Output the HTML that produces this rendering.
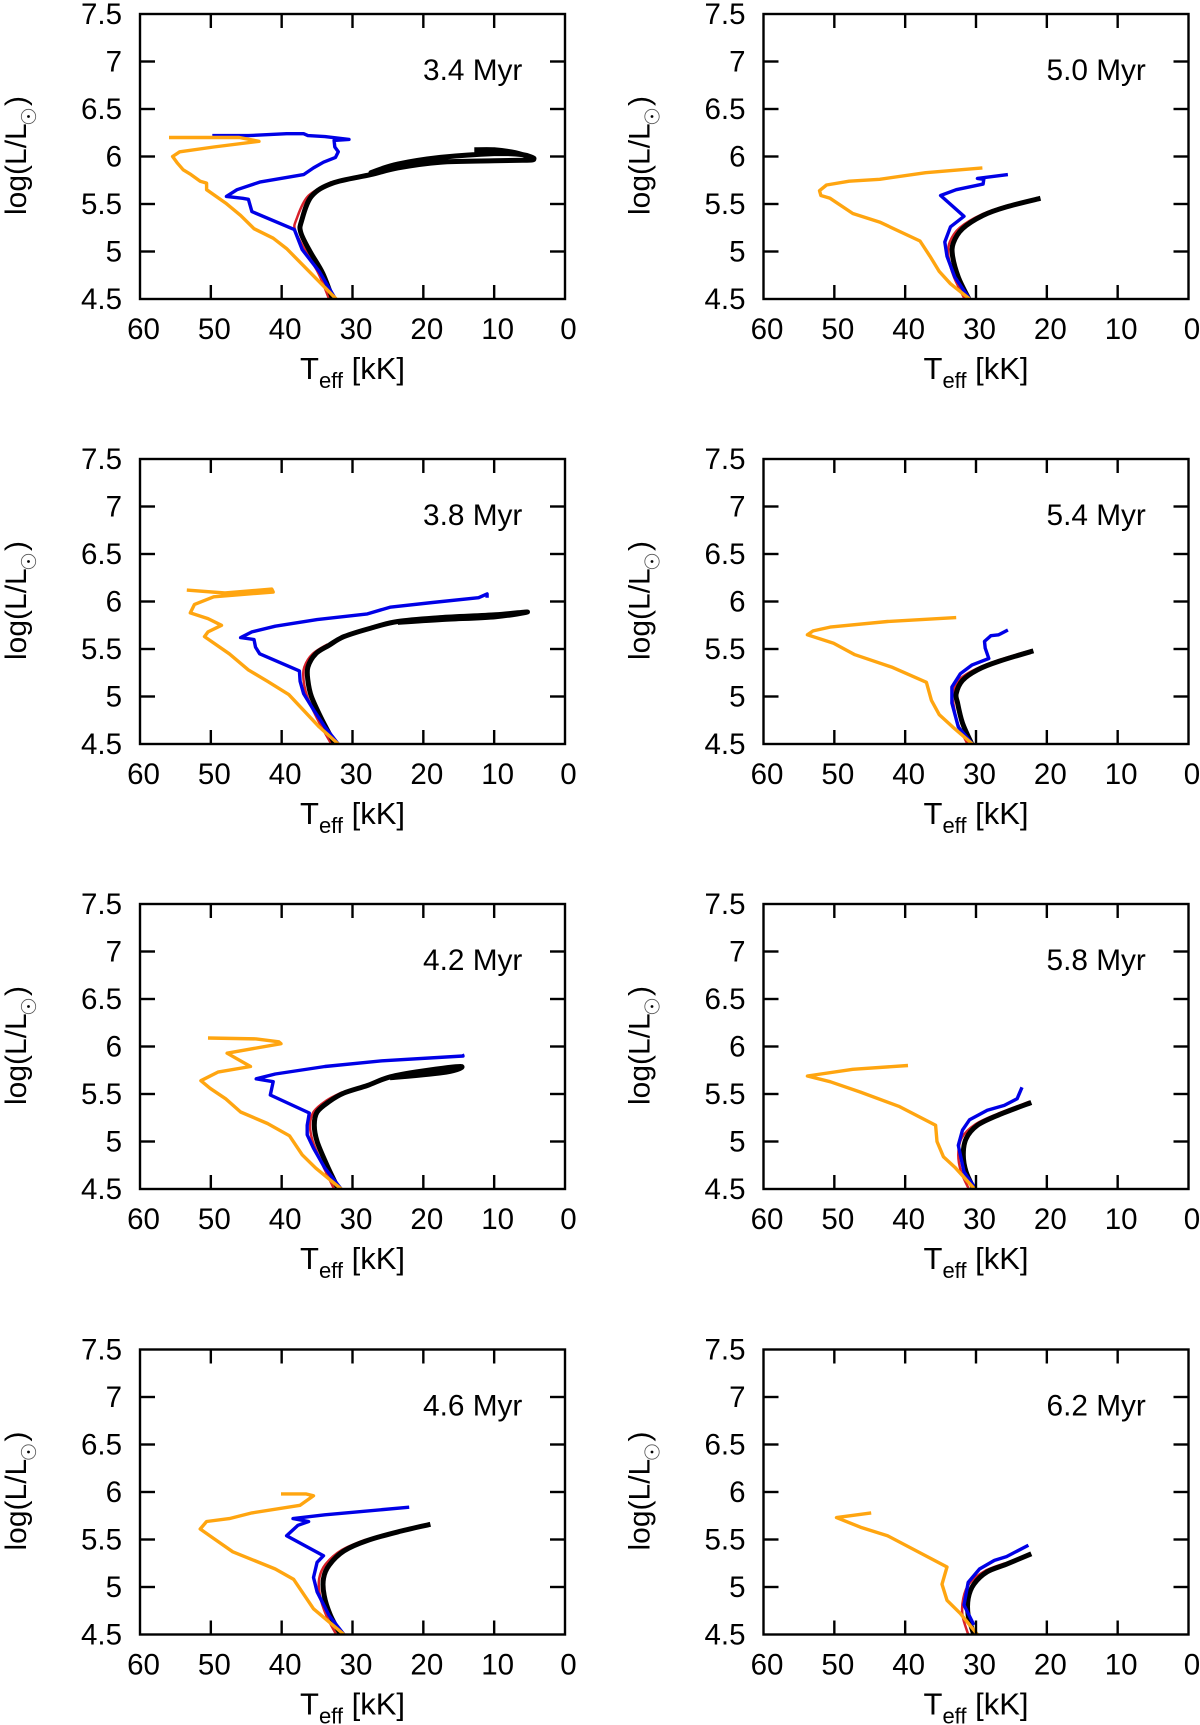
<!DOCTYPE html>
<html>
<head>
<meta charset="utf-8">
<title>HR diagrams by age</title>
<style>
html,body{margin:0;padding:0;background:#fff;}
svg{display:block;}
text{font-family:"Liberation Sans",Arial,sans-serif;fill:#000;}
</style>
</head>
<body>
<svg id="figure" xmlns="http://www.w3.org/2000/svg" width="1200" height="1725" viewBox="0 0 1200 1725">
<rect width="1200" height="1725" fill="#fff"/>
</svg>
<script>
const ages = ["3.4 Myr","5.0 Myr","3.8 Myr","5.4 Myr","4.2 Myr","5.8 Myr","4.6 Myr","6.2 Myr"];
const xTickLabels = [60,50,40,30,20,10,0];
const yTickLabels = ["4.5","5","5.5","6","6.5","7","7.5"];
const yTickValues = [4.5,5,5.5,6,6.5,7,7.5];

const blackTeff = [
 [32.8,34.2,36,37.3,37.2,35.8,32.8,27.4,23.6,17.6,10,6,4.4,6,10,17.6,23.6,27.4,23.6,17.6,10,6,4.4,7,10,12.8],
 [31,32.5,33.3,33.2,31.9,29,25.7,20.9],
 [32.5,34.4,35.8,36.3,36.3,35.2,33.3,31.2,27.4,23.6,17.6,9.8,5.3,9.8,17.6,23.6],
 [30.6,31.9,32.6,32.8,31.9,29.8,26.8,21.9],
 [32,33.6,35,35.4,35,33.3,31.2,27.9,24.7,20.3,14.7,16.8,24.7],
 [30.3,31.4,31.8,31.4,29.8,26.8,22.2],
 [31.7,33.1,34,34.1,33.3,31.2,27.9,23.6,19],
 [30.3,31.1,31.1,30.3,28.4,25.7,22.2]
];
const blackLum = [
 [4.5,4.77,5,5.2,5.32,5.58,5.72,5.81,5.88,5.94,5.955,5.96,5.97,6.02,6.03,5.99,5.92,5.83,5.92,5.99,6.03,6.02,5.98,6.04,6.07,6.07],
 [4.5,4.73,4.95,5.09,5.24,5.38,5.47,5.56],
 [4.5,4.77,5,5.17,5.31,5.45,5.54,5.63,5.72,5.79,5.83,5.86,5.89,5.84,5.81,5.78],
 [4.5,4.72,4.93,5.03,5.17,5.28,5.37,5.48],
 [4.5,4.75,5,5.17,5.31,5.42,5.51,5.59,5.68,5.74,5.79,5.73,5.67],
 [4.5,4.68,4.86,5.03,5.17,5.28,5.41],
 [4.5,4.7,4.91,5.09,5.23,5.38,5.49,5.58,5.66],
 [4.5,4.7,4.88,5.03,5.16,5.24,5.35]
];

const redTeff = [
 [33.3,34.8,36.6,38.1,37.9,36.3,33],
 [31.6,33.1,33.9,33.7,32.3,29.2,25.8],
 [33,35,36.4,36.9,36.8,35.6,33.5],
 [31.2,32.6,33.2,33.3,32.3,30,26.9,22],
 [32.6,34.2,35.6,36,35.5,33.7,31.4],
 [31,32.1,32.5,32,30.1,27,22.4],
 [32.3,33.7,34.6,34.7,33.8,31.5,28.1],
 [31.1,31.9,31.8,30.9,28.7,25.9]
];
const redLum = [
 [4.5,4.77,5,5.22,5.34,5.58,5.73],
 [4.5,4.73,4.95,5.1,5.25,5.39,5.48],
 [4.5,4.77,5,5.17,5.31,5.45,5.55],
 [4.5,4.72,4.93,5.03,5.18,5.29,5.38,5.49],
 [4.5,4.75,5,5.17,5.31,5.43,5.52],
 [4.5,4.68,4.86,5.04,5.18,5.29,5.42],
 [4.5,4.7,4.91,5.09,5.24,5.39,5.5],
 [4.5,4.7,4.88,5.04,5.17,5.25]
];

const blueTeff = [
 [32.4,34.7,37.1,38.2,44.2,44.7,45.5,47.8,46.3,43.1,36.9,35.5,34.1,32.4,32,32.5,32.6,30.5,33.9,36.3,36.9,39.3,44.7,49.8],
 [30.9,33,34.1,34.4,33.6,31.7,35,32.8,29,28.9,29.8,25.5],
 [32,33.9,35.5,36.9,37.4,37.5,43.1,43.7,43.9,45.8,44.2,40.9,35,27.9,24.7,18.7,12.2,11,11],
 [30.5,32.5,33.4,33.4,32.2,30.6,28.2,28.7,28.8,27.9,26.8,25.5],
 [31.6,33.9,35.5,36.4,36.4,36.1,41.6,41.2,43.6,40.9,33.9,25.8,14.4,14.5],
 [30.2,31.7,32.5,31.9,30.9,28.4,26,24.2,23.5],
 [31.2,33.3,35,35.5,35,34.1,39.3,37.7,36.2,38.4,33.9,22],
 [30.3,31.7,31.1,29.5,27.4,25.7,22.6]
];
const blueLum = [
 [4.5,4.79,5.02,5.23,5.42,5.55,5.56,5.58,5.65,5.73,5.81,5.88,5.94,5.99,6.05,6.1,6.17,6.18,6.21,6.22,6.24,6.24,6.22,6.22],
 [4.5,4.73,4.95,5.1,5.26,5.37,5.59,5.65,5.71,5.76,5.77,5.81],
 [4.5,4.68,4.86,5.03,5.16,5.27,5.45,5.52,5.6,5.62,5.68,5.74,5.81,5.87,5.94,5.99,6.04,6.08,6.04],
 [4.5,4.68,4.93,5.1,5.24,5.33,5.4,5.51,5.58,5.64,5.65,5.7],
 [4.5,4.72,4.93,5.07,5.17,5.3,5.49,5.63,5.66,5.71,5.79,5.85,5.9,5.92],
 [4.52,4.68,4.96,5.12,5.23,5.33,5.38,5.45,5.57],
 [4.5,4.7,4.95,5.1,5.26,5.33,5.54,5.65,5.69,5.72,5.76,5.84],
 [4.6,4.81,5.05,5.19,5.28,5.32,5.44]
];

const orangeTeff = [
 [32.3,34.4,39.3,41.2,43.9,45.8,47.9,50.6,50.6,51.5,52.8,53.9,54.7,55.4,54.4,49.6,43.2,46,55.9],
 [30.9,33.6,35.2,36.5,37.9,43.6,47.4,50.6,51.9,52.1,51.1,47.9,43.6,37.1,29.1],
 [32,34.7,39,42,44.7,47.4,50.1,50.9,50.4,48.5,50.4,52.9,52.3,49.6,41.2,41.4,48,53.4],
 [30.5,33.3,35.2,36.3,37,41.9,47.1,50.1,53.8,53,50.6,42.5,32.8],
 [31.6,35.2,37.1,38.9,42,45.8,47.9,50.1,51.4,49,44.4,47.7,40.1,40.4,43.6,50.4],
 [30.2,33,34.6,35.5,35.7,40.9,46.3,50.6,53.8,47.4,39.6],
 [31.2,35.5,38.3,40.9,46.9,49.6,51.5,50.6,47.4,44.2,37.4,35.5,36.6,40.1],
 [29.8,32.2,34.1,34.8,34.1,42.5,46.3,49.7,44.8]
];
const orangeLum = [
 [4.5,4.66,5.03,5.14,5.24,5.38,5.51,5.65,5.72,5.74,5.81,5.86,5.93,6,6.05,6.1,6.16,6.2,6.2],
 [4.5,4.66,4.79,4.95,5.11,5.31,5.4,5.56,5.59,5.64,5.7,5.74,5.76,5.83,5.88],
 [4.5,4.68,5.02,5.16,5.28,5.45,5.59,5.63,5.68,5.75,5.82,5.88,5.97,6.05,6.1,6.13,6.09,6.12],
 [4.5,4.68,4.81,4.96,5.15,5.31,5.44,5.56,5.65,5.69,5.73,5.79,5.83],
 [4.5,4.72,4.86,5.06,5.19,5.31,5.45,5.56,5.64,5.73,5.79,5.93,6.03,6.05,6.08,6.09],
 [4.5,4.73,4.84,5,5.17,5.37,5.52,5.63,5.69,5.76,5.8],
 [4.5,4.77,5.08,5.19,5.37,5.51,5.61,5.69,5.72,5.78,5.86,5.96,5.98,5.98],
 [4.5,4.72,4.86,5.03,5.21,5.54,5.63,5.73,5.78]
];

const plotW = 425, plotH = 285;
const colLeft = [140, 763.5];
const rowTop = [14, 459, 904, 1349.5];
const NS = "http://www.w3.org/2000/svg";
const fig = document.getElementById("figure");

function make(parent, tag, attrs, txt) {
  const e = document.createElementNS(NS, tag);
  for (const k in attrs) e.setAttribute(k, attrs[k]);
  if (txt !== undefined) e.textContent = txt;
  parent.appendChild(e);
  return e;
}
function xScale(left, t) { return left + plotW * (60 - t) / 60; }
function yScale(top, l) { return top + plotH * (7.5 - l) / 3; }

function pathFor(pts, smooth) {
  let d = "M" + pts[0][0].toFixed(1) + " " + pts[0][1].toFixed(1);
  for (let i = 0; i < pts.length - 1; i++) {
    const p1 = pts[i], p2 = pts[i + 1];
    if (!smooth) { d += "L" + p2[0].toFixed(1) + " " + p2[1].toFixed(1); continue; }
    const p0 = pts[i - 1] || p1, p3 = pts[i + 2] || p2;
    const c1x = p1[0] + (p2[0] - p0[0]) / 6, c1y = p1[1] + (p2[1] - p0[1]) / 6;
    const c2x = p2[0] - (p3[0] - p1[0]) / 6, c2y = p2[1] - (p3[1] - p1[1]) / 6;
    d += "C" + c1x.toFixed(1) + " " + c1y.toFixed(1) + " " + c2x.toFixed(1) + " " + c2y.toFixed(1) + " " + p2[0].toFixed(1) + " " + p2[1].toFixed(1);
  }
  return d;
}

function drawSeries(g, left, top, ts, ls, color, width, name, smooth) {
  const pts = ts.map((t, i) => [xScale(left, t), yScale(top, ls[i])]);
  const line = make(g, "path", {d: pathFor(pts, smooth), fill: "none", stroke: color, "stroke-width": width, "stroke-linejoin": "round"});
  
  
}

ages.forEach((age, p) => {
  const left = colLeft[p % 2], top = rowTop[Math.floor(p / 2)];
  const right = left + plotW, bottom = top + plotH;
  const g = make(fig, "g", {});
  
  

  const clipId = "clip" + p;
  const defs = make(g, "defs", {});
  const cp = make(defs, "clipPath", {id: clipId});
  make(cp, "rect", {x: left, y: top, width: plotW, height: plotH});

  const marks = make(g, "g", {"clip-path": "url(#" + clipId + ")"});
  
  
  drawSeries(marks, left, top, redTeff[p], redLum[p], "#d8202a", 2.5, "red-track", true);
  drawSeries(marks, left, top, blackTeff[p], blackLum[p], "#000", 5, "black-track", true);
  drawSeries(marks, left, top, blueTeff[p], blueLum[p], "#0000e6", 3.4, "blue-track", false);
  drawSeries(marks, left, top, orangeTeff[p], orangeLum[p], "#ffa510", 3.4, "orange-track", false);

  const axes = make(g, "g", {stroke: "#000", "stroke-width": 2.4, fill: "none"});
  
  
  xTickLabels.forEach((v) => {
    if (v === 60 || v === 0) return;
    const x = xScale(left, v);
    make(axes, "line", {x1: x, x2: x, y1: top, y2: top + 14});
    make(axes, "line", {x1: x, x2: x, y1: bottom, y2: bottom - 14});
  });
  yTickValues.forEach((v) => {
    if (v === 4.5 || v === 7.5) return;
    const y = yScale(top, v);
    make(axes, "line", {x1: left, x2: left + 15, y1: y, y2: y});
    make(axes, "line", {x1: right, x2: right - 15, y1: y, y2: y});
  });
  const frame = make(axes, "rect", {x: left, y: top, width: plotW, height: plotH});
  
  

  xTickLabels.forEach((v) => {
    const t = make(g, "text", {x: xScale(left, v) + 3.5, y: bottom + 40, "font-size": 29.5, "text-anchor": "middle"}, String(v));
    
    
  });
  yTickValues.forEach((v, i) => {
    const t = make(g, "text", {x: left - 18, y: yScale(top, v) + 9.8, "font-size": 29.5, "text-anchor": "end"}, yTickLabels[i]);
    
    
  });

  const age_t = make(g, "text", {x: left + 283, y: top + 66, "font-size": 29.8}, age);
  
  

  const xt = make(g, "text", {x: left + 160, y: bottom + 80, "font-size": 31});
  
  
  make(xt, "tspan", {}, "T");
  make(xt, "tspan", {dy: 9, "font-size": 22}, "eff");
  make(xt, "tspan", {dy: -9}, " [kK]");

  const yt = make(g, "g", {});
  
  
  const bx = left - 114, by = top + 201;
  make(yt, "text", {x: bx, y: by, "font-size": 30, transform: "rotate(-90 " + bx + " " + by + ")"}, "log(L/L");
  make(yt, "text", {x: bx, y: by - 109, "font-size": 30, transform: "rotate(-90 " + bx + " " + (by - 109) + ")"}, ")");
  const sun = make(yt, "circle", {cx: bx + 2.5, cy: by - 98.5, r: 7.2, fill: "none", stroke: "#555", "stroke-width": 0.8});
  
  
  make(yt, "circle", {cx: bx + 2.5, cy: by - 98.5, r: 1.4, fill: "#000"});
});
</script>
</body>
</html>
